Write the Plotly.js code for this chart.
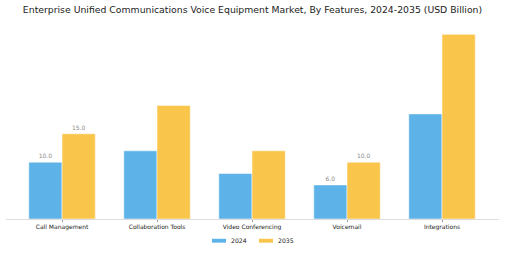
<!DOCTYPE html>
<html>
<head>
<meta charset="utf-8">
<script src="https://cdn.plot.ly/plotly-3.0.1.min.js"></script>
<style>html,body{margin:0;padding:0;background:#fff;}#chart{width:505px;height:253px;}</style>
</head>
<body>
<div id="chart"></div>
<script>
const categories = ["Call Management", "Collaboration Tools", "Video Conferencing", "Voicemail", "Integrations"];
const values2024 = [10.0, 12.0, 8.0, 6.0, 18.5];
const values2035 = [15.0, 20.0, 12.0, 10.0, 32.5];
const labels2024 = ["10.0", "", "", "6.0", ""];
const labels2035 = ["15.0", "", "", "10.0", ""];
const seriesNames = ["2024", "2035"];
const seriesColors = ["#5DB3E7", "#FAC54B"];

const traces = [
  {type: "bar", name: seriesNames[0], x: categories, y: values2024, text: labels2024,
   textposition: "outside", cliponaxis: false, textfont: {size: 6, color: "#8a8a8a"},
   marker: {color: seriesColors[0], line: {color: "#ffffff", width: 0.5}}, hoverinfo: "none", showlegend: false},
  {type: "bar", name: seriesNames[1], x: categories, y: values2035, text: labels2035,
   textposition: "outside", cliponaxis: false, textfont: {size: 6, color: "#8a8a8a"},
   marker: {color: seriesColors[1], line: {color: "#ffffff", width: 0.5}}, hoverinfo: "none", showlegend: false}
];

// Custom legend (paper coordinates, below the plot area)
const legX = [0.4178, 0.5132];
const swW = 0.0284, swY0 = -0.102, swY1 = -0.122, txtDx = 0.035, txtY = -0.112;
const shapes = seriesNames.map((n, i) => ({
  type: "rect", xref: "paper", yref: "paper", x0: legX[i], x1: legX[i] + swW, y0: swY0, y1: swY1,
  fillcolor: seriesColors[i], line: {width: 0}
}));
const annotations = seriesNames.map((n, i) => ({
  xref: "paper", yref: "paper", x: legX[i] + txtDx, y: txtY, xanchor: "left", yanchor: "middle",
  text: n, showarrow: false, font: {size: 6.2, color: "#222", family: "DejaVu Sans"}
}));

const layout = {
  width: 505, height: 253,
  margin: {l: 6, r: 6, t: 25, b: 34, autoexpand: false},
  paper_bgcolor: "#ffffff", plot_bgcolor: "#ffffff",
  font: {family: "DejaVu Sans", color: "#222"},
  title: {text: "Enterprise Unified Communications Voice Equipment Market, By Features, 2024-2035 (USD Billion)",
          font: {size: 9.3, color: "#222", family: "DejaVu Sans"}, x: 0.5, xanchor: "center",
          yref: "container", y: 0.96, yanchor: "middle"},
  barmode: "group", bargap: 0.3, bargroupgap: 0,
  xaxis: {type: "category", range: [-0.59, 4.6], showline: true, linecolor: "#dddddd", linewidth: 1,
          automargin: false, ticks: "outside", ticklen: 2, tickcolor: "#999",
          tickfont: {size: 6, color: "#222"}, showgrid: false, zeroline: false},
  yaxis: {range: [0, 34.15], visible: false, showgrid: false, zeroline: false},
  showlegend: false,
  shapes: shapes,
  annotations: annotations
};

Plotly.newPlot("chart", traces, layout, {displayModeBar: false, staticPlot: true});
</script>
</body>
</html>
